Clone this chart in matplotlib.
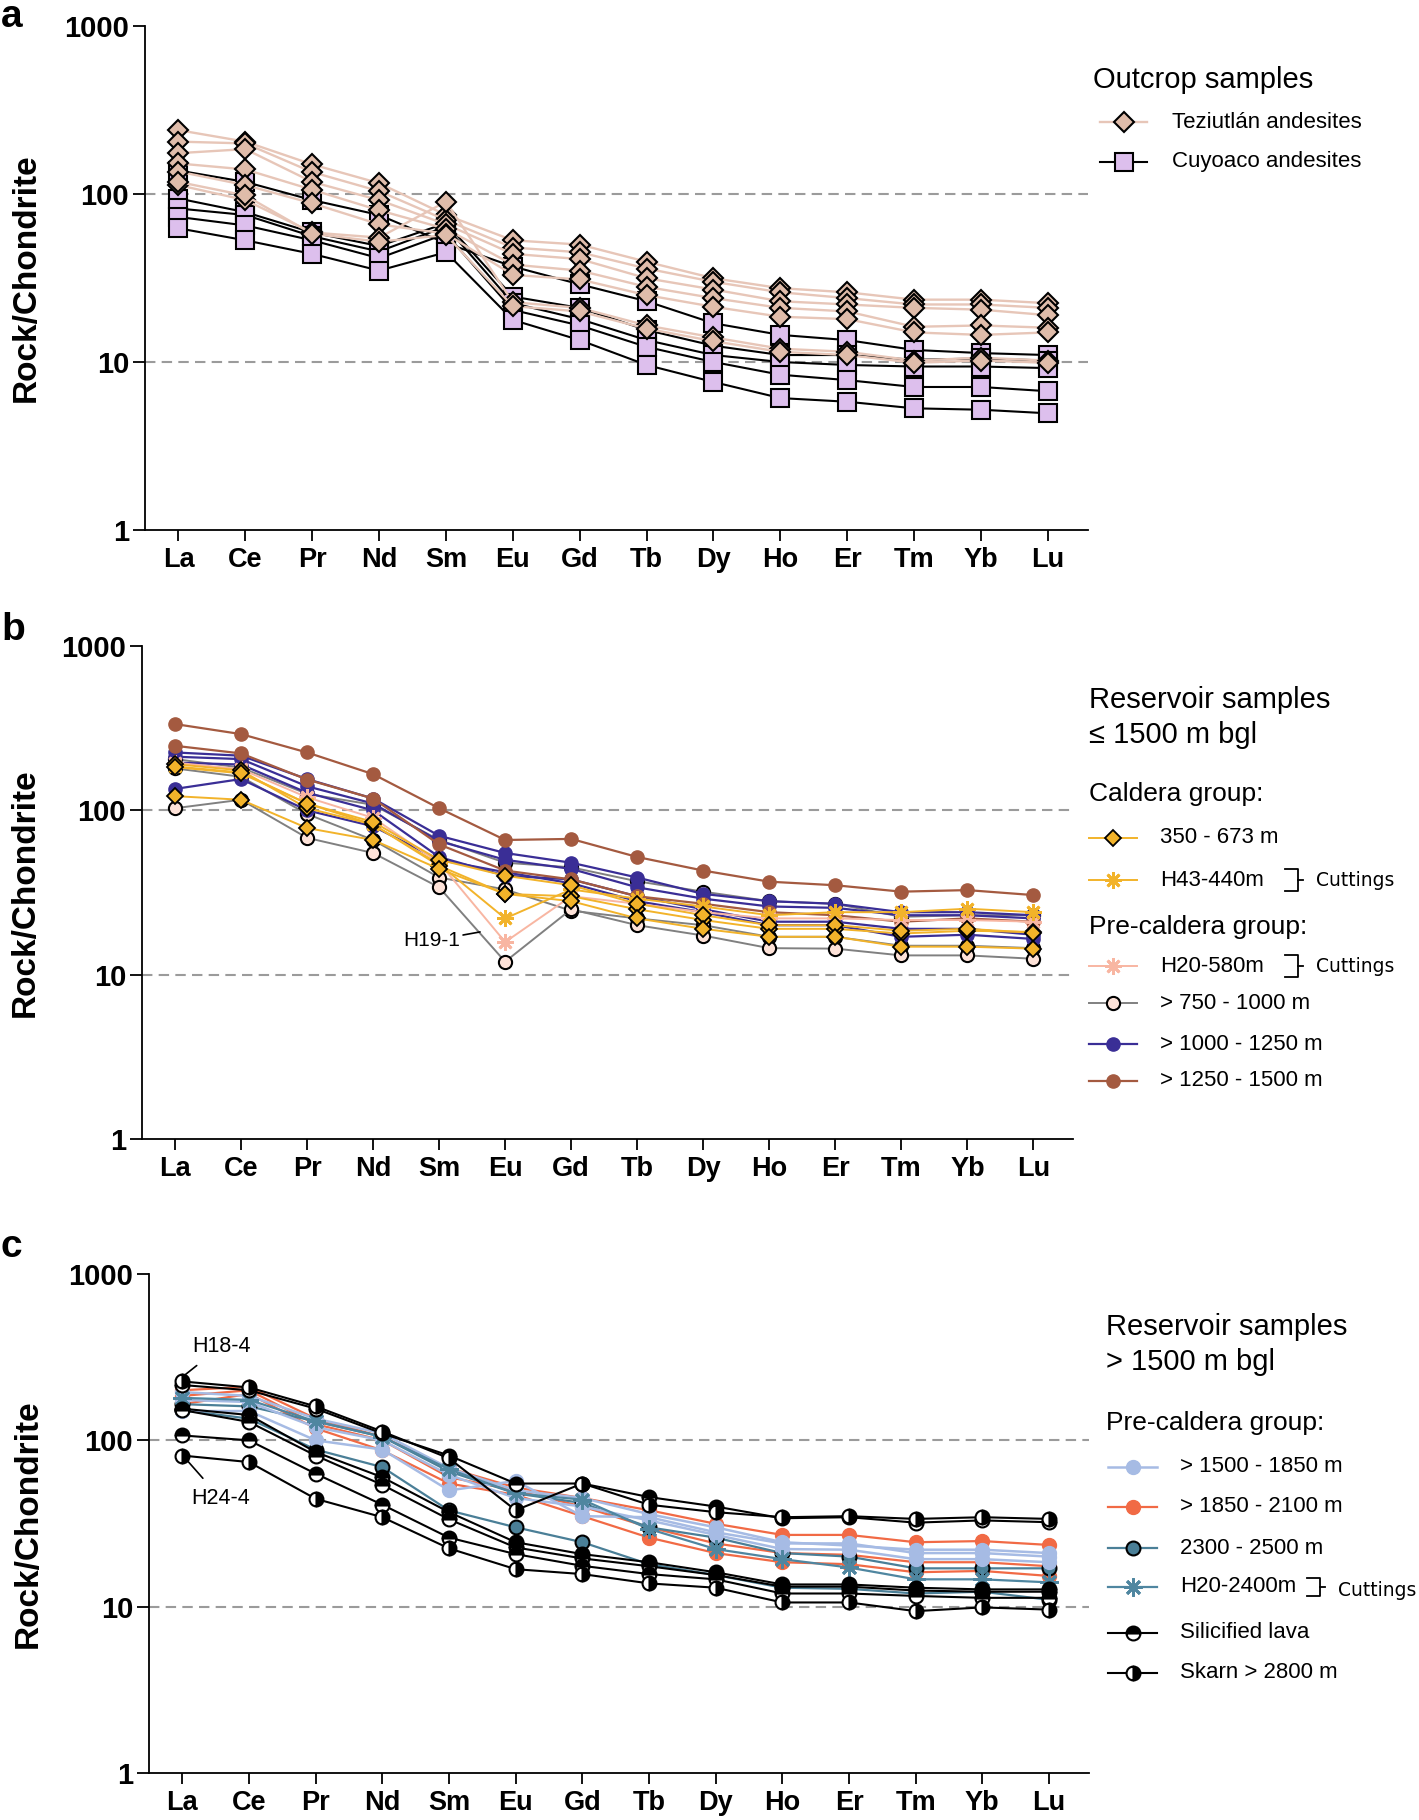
import matplotlib
matplotlib.use('Agg')
import matplotlib.pyplot as plt
from matplotlib.lines import Line2D
from matplotlib.ticker import NullLocator
import numpy as np

plt.rcParams['font.family'] = ['Liberation Sans', 'DejaVu Sans']

# ---------------- data ----------------
ree = ['La', 'Ce', 'Pr', 'Nd', 'Sm', 'Eu', 'Gd', 'Tb', 'Dy', 'Ho', 'Er', 'Tm', 'Yb', 'Lu']
y_ticks = [1, 10, 100, 1000]
y_ticklabels = ['1', '10', '100', '1000']

# panel a - outcrop samples
teziutlan = [
    [240, 205, 150, 116, 75, 53, 50, 39.5, 31.5, 27.5, 26, 23.5, 23.5, 22.4],
    [205, 200, 135, 104, 70, 48, 45, 36, 30, 26, 24, 22, 22, 21],
    [175, 185, 118, 92, 66, 44, 41, 31.5, 27, 23, 22, 21, 20.5, 19],
    [152, 140, 106, 80, 62, 38, 35, 28, 24, 21, 20, 16.2, 16.5, 16],
    [136, 113, 88, 66, 58, 33, 31, 25, 21.3, 18.6, 18, 15, 14.5, 15],
    [113, 92, 59, 55, 90, 22.7, 21, 16.5, 14, 12, 11.5, 10.2, 10.6, 10.2],
    [118, 98, 58, 52, 57, 21.5, 20, 15.8, 13.3, 11.5, 11, 9.9, 10.2, 9.9],
]
cuyoaco = [
    [138, 118, 92, 75, 51, 37, 29, 23, 17, 14.5, 13.5, 11.8, 11.3, 11],
    [94, 78, 59, 49, 67, 24.5, 21, 15.5, 12.5, 11, 11, 10.3, 10.5, 10.2],
    [82, 75, 56, 45.5, 64, 22.4, 18, 13.5, 11, 10, 9.6, 9.4, 9.4, 9.2],
    [73, 65, 53, 41.5, 58, 20.4, 16.5, 12.3, 10, 8.4, 7.8, 7.1, 7.1, 6.7],
    [62.5, 53, 44, 35, 45, 17.8, 13.5, 9.6, 7.6, 6.1, 5.8, 5.3, 5.2, 4.95],
]

# panel b - reservoir samples <= 1500 m
caldera_350_673 = [
    [191, 175, 103, 82, 46, 31, 30, 25, 21.5, 19, 19, 17.8, 18.5, 18.2],
    [183, 168, 110, 85, 50, 40, 35, 27, 23, 20, 20, 18.5, 19, 18],
    [122, 116, 78, 66, 44, 31, 28, 22, 19, 17, 17, 14.8, 14.8, 14.4],
]
h43_440 = [185, 170, 110, 82, 47, 22, 33, 29, 26, 23, 24, 24, 25.2, 24]
h20_580 = [195, 178, 120, 90, 48, 15.8, 30, 27, 24, 22, 22, 21.5, 21.5, 21]
pre_750_1000 = [
    [205, 182, 126, 108, 66, 48, 45, 37, 32, 28, 27, 22.5, 23, 23],
    [180, 160, 95, 66, 39, 33, 24.5, 22, 20, 17, 17, 15, 15, 14.5],
    [103, 116, 68, 55, 34, 12, 25, 20, 17.3, 14.5, 14.4, 13.1, 13.1, 12.5],
]
pre_1000_1250 = [
    [225, 215, 155, 118, 70, 55, 48, 39, 31, 28, 27, 24, 24, 23],
    [212, 205, 140, 110, 65, 50, 44, 34, 29, 26, 25.5, 23, 23, 22],
    [195, 190, 128, 100, 52, 40, 38, 30, 25, 21, 21, 19, 19, 17.5],
    [135, 155, 100, 80, 50, 42, 36, 28, 24, 20, 20, 17, 17.5, 16.5],
]
pre_1250_1500 = [
    [335, 291, 225, 166, 103, 66, 67, 52, 43, 36.8, 35, 32, 32.7, 30.5],
    [247, 222, 154, 118, 62, 43, 38, 30, 27, 24, 23, 21, 22, 21],
]
h19_1_xy = (4.62, 18.2)
h19_1_text = (4.32, 16.1)

# panel c - reservoir samples > 1500 m
pre_1500_1850 = [
    [150, 150, 100, 88, 50, 57, 35, 34.5, 28, 24, 24, 21, 21, 20],
    [195, 185, 135, 110, 68, 50, 45, 36, 30, 24.4, 23.3, 22, 22, 21],
    [175, 170, 120, 100, 62, 45, 40, 33, 27, 22.2, 22, 19.3, 19.3, 18.5],
]
pre_1850_2100 = [
    [200, 210, 135, 105, 68, 52, 45, 38, 31.5, 27, 27, 24.4, 24.8, 23.5],
    [185, 200, 125, 100, 60, 50, 40, 30, 24, 21, 20.5, 18.5, 18.5, 17.5],
    [165, 190, 118, 87, 55, 47, 35, 26, 21, 18.5, 18, 16.1, 16.4, 15.3],
]
pre_2300_2500 = [
    [165, 160, 130, 105, 65, 48, 42, 30, 26, 21, 20, 17, 17, 17],
    [152, 135, 88, 69, 37.9, 30, 24.4, 18, 15.5, 13, 12.8, 12, 12.3, 11],
]
h20_2400 = [180, 175, 130, 105, 67, 48, 44, 29.3, 22.2, 19.3, 17.2, 14.6, 14.6, 14]
silicified_lava = [
    [215, 200, 155, 110, 81, 55, 55, 45.6, 40, 34, 34.5, 32, 33, 32.2],
    [155, 142, 85, 60, 37, 24.4, 20.7, 18.5, 16.1, 13.6, 13.6, 13, 12.7, 12.7],
    [152, 129, 81, 54, 33.5, 22.7, 19.5, 17.5, 15.5, 13.2, 13.2, 12.5, 12.3, 12.3],
    [107, 100, 63, 41, 26, 20.7, 17.6, 15.7, 14.6, 12, 12, 11.6, 11.3, 11.3],
]
skarn = [
    [226, 208, 160, 113, 78, 38, 55, 41, 37, 34.5, 35, 33.7, 34.5, 33.7],
    [81, 74, 44.5, 34.5, 22.4, 16.8, 15.7, 13.8, 13, 10.6, 10.6, 9.4, 9.9, 9.6],
]
h18_4_xy, h18_4_text = (0.015, 243), (0.58, 368)
h24_4_xy, h24_4_text = (0.075, 75.5), (0.58, 44.5)

# ---------------- styles ----------------
star = (8, 2, 0)
st_tez = dict(color='#E7C6B8', lw=1.7, marker='D', ms=10.5, mfc='#DFBCAA', mec='k', mew=1.5)
st_cuy = dict(color='k', lw=1.5, marker='s', ms=12.5, mfc='#DDBFED', mec='k', mew=1.5)
st_cal = dict(color='#F2B32A', lw=1.4, marker='D', ms=8, mfc='#F2B32A', mec='k', mew=1.3)
st_h43 = dict(color='#F2B32A', lw=1.4, marker=star, ms=12, mec='#F2B32A', mew=2)
st_h20a = dict(color='#F8B6A2', lw=1.4, marker=star, ms=12, mec='#F8B6A2', mew=2)
st_750 = dict(color='#808080', lw=1.4, marker='o', ms=9.5, mfc='#FDE2D8', mec='k', mew=1.5)
st_1000 = dict(color='#3A2E96', lw=1.6, marker='o', ms=9.5, mfc='#3A2E96', mec='#3A2E96')
st_1250 = dict(color='#A45A40', lw=1.6, marker='o', ms=9.5, mfc='#A45A40', mec='#A45A40')
st_1500 = dict(color='#A6BBE4', lw=1.8, marker='o', ms=10, mfc='#A6BBE4', mec='#A6BBE4')
st_1850 = dict(color='#F16A45', lw=1.6, marker='o', ms=10, mfc='#F16A45', mec='#F16A45')
st_2300 = dict(color='#4A7F97', lw=1.6, marker='o', ms=10, mfc='#4A7F97', mec='k', mew=1.5)
st_h20c = dict(color='#4F86A0', lw=1.6, marker=star, ms=13, mec='#4F86A0', mew=2)
st_sil = dict(color='k', lw=1.5, marker='o', ms=10, fillstyle='top', mfc='k',
              mfcalt='white', mec='k', mew=1.5)
st_sk = dict(color='k', lw=1.5, marker='o', ms=10, fillstyle='right', mfc='k',
             mfcalt='white', mec='k', mew=1.5)

W, H = 1419, 1820
fig = plt.figure(figsize=(W / 100, H / 100), dpi=100)


def fx(px):
    return px / W


def fy(py):
    return 1 - py / H


def setup_axes(rect):
    ax = fig.add_axes(rect)
    ax.set_yscale('log')
    ax.set_ylim(1, 1000)
    ax.set_xlim(-0.5, 13.6)
    ax.set_yticks(y_ticks)
    ax.set_yticklabels(y_ticklabels, fontsize=21, fontweight='bold')
    ax.yaxis.set_minor_locator(NullLocator())
    ax.set_xticks(range(len(ree)))
    ax.set_xticklabels(ree, fontsize=19.5, fontweight='bold')
    for s in ['top', 'right']:
        ax.spines[s].set_visible(False)
    for s in ['left', 'bottom']:
        ax.spines[s].set_linewidth(1.3)
    ax.tick_params(axis='y', length=8.5, width=1.3, pad=3)
    ax.tick_params(axis='x', length=8, width=1.3, pad=4)
    for v in (10, 100):
        ax.axhline(v, color='#9B9B9B', lw=1.5, ls=(0, (5, 3)), zorder=0)
    ax.set_ylabel('Rock/Chondrite', fontsize=24, fontweight='bold')
    return ax


def draw(ax, series, style, z):
    for s in series:
        ax.plot(range(len(ree)), s, zorder=z, **style)


def key(x0, x1, y, style):
    xs = [fx(x0), fx((x0 + x1) / 2), fx(x1)]
    fig.add_artist(Line2D(xs, [fy(y)] * 3, transform=fig.transFigure,
                          markevery=[1], **style))


def bracket(x, y0, y1):
    xm = fx(x)
    fig.add_artist(Line2D([fx(x - 13), xm, xm, fx(x - 13)], [fy(y0), fy(y0), fy(y1), fy(y1)],
                          transform=fig.transFigure, color='k', lw=1.3))
    fig.add_artist(Line2D([xm, fx(x + 5)], [fy((y0 + y1) / 2)] * 2,
                          transform=fig.transFigure, color='k', lw=1.3))


# ---------------- panel a ----------------
ax_a = setup_axes([fx(145), fy(530), 943 / W, 504 / H])
ax_a.yaxis.set_label_coords(-0.110, 0.5)
draw(ax_a, cuyoaco, st_cuy, 3)
draw(ax_a, teziutlan, st_tez, 4)

fig.text(fx(1093), fy(80), 'Outcrop samples', fontsize=21, va='center')
for y, lab, st in [(122, 'Teziutlán andesites', st_tez), (162, 'Cuyoaco andesites', st_cuy)]:
    key(1100, 1147, y, st)
    fig.text(fx(1172), fy(y), lab, fontsize=16, va='center')

# ---------------- panel b ----------------
ax_b = setup_axes([fx(142), fy(1139), 931 / W, 493 / H])
ax_b.yaxis.set_label_coords(-0.1085, 0.5)
draw(ax_b, pre_750_1000, st_750, 3)
draw(ax_b, pre_1000_1250, st_1000, 4)
draw(ax_b, pre_1250_1500, st_1250, 4)
draw(ax_b, [h20_580], st_h20a, 5)
draw(ax_b, [h43_440], st_h43, 5)
draw(ax_b, caldera_350_673, st_cal, 6)
ax_b.annotate('H19-1', xy=h19_1_xy, xytext=h19_1_text, fontsize=15, ha='right', va='center',
              arrowprops=dict(arrowstyle='-', color='k', lw=1.2, shrinkA=0, shrinkB=0),
              zorder=8)

fig.text(fx(1089), fy(700), 'Reservoir samples', fontsize=21, va='center')
fig.text(fx(1089), fy(735), '≤ 1500 m bgl', fontsize=21, va='center')
fig.text(fx(1089), fy(794), 'Caldera group:', fontsize=19, va='center')
fig.text(fx(1089), fy(927), 'Pre-caldera group:', fontsize=19, va='center')
rows_b = [(838, '350 - 673 m', st_cal), (880, 'H43-440m', st_h43),
          (966, 'H20-580m', st_h20a), (1003, '> 750 - 1000 m', st_750),
          (1044, '> 1000 - 1250 m', st_1000), (1081, '> 1250 - 1500 m', st_1250)]
for y, lab, st in rows_b:
    key(1089, 1137, y, st)
    fig.text(fx(1160), fy(y), lab, fontsize=16, va='center')
for y in (880, 966):
    bracket(1298, y - 11, y + 11)
    fig.text(fx(1316), fy(y), 'Cuttings', fontsize=13.5, va='center', family='DejaVu Sans')

# ---------------- panel c ----------------
ax_c = setup_axes([fx(149), fy(1773), 940 / W, 499 / H])
ax_c.yaxis.set_label_coords(-0.112, 0.5)
draw(ax_c, pre_1850_2100, st_1850, 3)
draw(ax_c, pre_2300_2500, st_2300, 4)
draw(ax_c, pre_1500_1850, st_1500, 4)
draw(ax_c, [h20_2400], st_h20c, 5)
draw(ax_c, silicified_lava, st_sil, 6)
draw(ax_c, skarn, st_sk, 6)
for lab, xy, xt in [('H18-4', h18_4_xy, h18_4_text), ('H24-4', h24_4_xy, h24_4_text)]:
    ax_c.annotate(lab, xy=xy, xytext=xt, fontsize=15.5, ha='center', va='center',
                  arrowprops=dict(arrowstyle='-', color='k', lw=1.2, shrinkA=7, shrinkB=0),
                  zorder=8)

fig.text(fx(1106), fy(1327), 'Reservoir samples', fontsize=21, va='center')
fig.text(fx(1106), fy(1362), '> 1500 m bgl', fontsize=21, va='center')
fig.text(fx(1106), fy(1423), 'Pre-caldera group:', fontsize=19, va='center')
rows_c = [(1467, '> 1500 - 1850 m', st_1500), (1507, '> 1850 - 2100 m', st_1850),
          (1548, '2300 - 2500 m', st_2300), (1587, 'H20-2400m', st_h20c),
          (1633, 'Silicified lava', st_sil), (1673, 'Skarn > 2800 m', st_sk)]
for y, lab, st in rows_c:
    key(1108, 1157, y, st)
    fig.text(fx(1180), fy(y), lab, fontsize=16, va='center')
bracket(1320, 1587 - 9, 1587 + 9)
fig.text(fx(1338), fy(1590), 'Cuttings', fontsize=13.5, va='center', family='DejaVu Sans')

# panel letters
for lab, y in [('a', 27), ('b', 640), ('c', 1257)]:
    fig.text(fx(1), fy(y), lab, fontsize=28, fontweight='bold', va='baseline')

fig.savefig('out.png', dpi=100)
